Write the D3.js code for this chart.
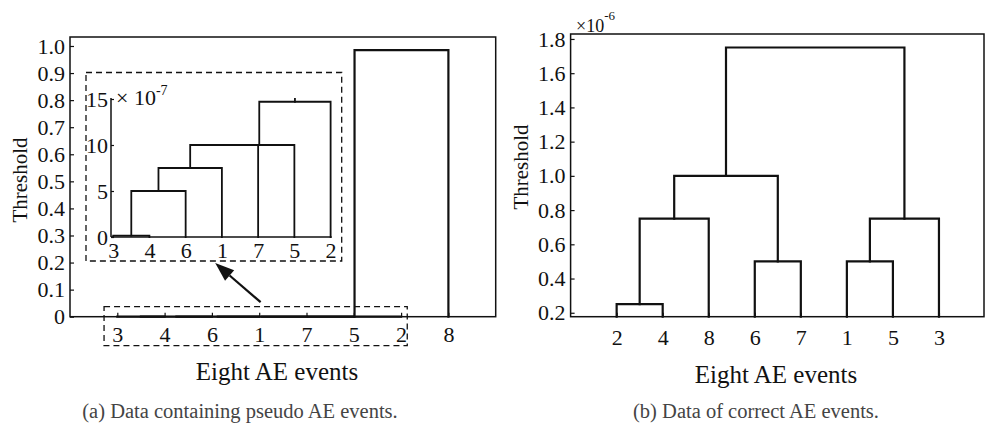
<!DOCTYPE html>
<html><head><meta charset="utf-8">
<script src="https://cdn.jsdelivr.net/npm/d3@7"></script>
<style>
html,body{margin:0;padding:0;background:#fff;}
svg{display:block;}
text{font-family:"Liberation Serif","Times New Roman",serif;fill:#111;}
</style></head><body>
<svg id="c" width="987" height="430"></svg>
<script>
// ---------- DATA ----------
// (a) leaf order and linkage (MATLAB-style: ids 1..8 = AE events, 9+ = clusters)
const leavesA = [3, 4, 6, 1, 7, 5, 2, 8];
const linkA = [          // [left id, right id, height]
  [3, 4, 0.15e-7],
  [9, 6, 5e-7],
  [10, 1, 7.5e-7],
  [11, 7, 10e-7],
  [12, 5, 10e-7],
  [13, 2, 14.7e-7],
  [14, 8, 0.985]
];
const yTicksA = [0, 0.1, 0.2, 0.3, 0.4, 0.5, 0.6, 0.7, 0.8, 0.9, 1.0];
const insetLeaves = [3, 4, 6, 1, 7, 5, 2];
const insetYTicks = [0, 5, 10, 15];      // x 10^-7
// (b)
const leavesB = [2, 4, 8, 6, 7, 1, 5, 3];
const linkB = [          // heights in units of 10^-6
  [2, 4, 0.25],
  [9, 8, 0.75],
  [6, 7, 0.5],
  [10, 11, 1.0],
  [1, 5, 0.5],
  [13, 3, 0.75],
  [12, 14, 1.75]
];
const yTicksB = [0.2, 0.4, 0.6, 0.8, 1.0, 1.2, 1.4, 1.6, 1.8];

const xTitle = "Eight AE events", yTitle = "Threshold";
const captionA = "(a) Data containing pseudo AE events.";
const captionB = "(b) Data of correct AE events.";

// ---------- HELPERS ----------
const svg = d3.select("#c");
const INK = "#111";
const N_EVENTS = 8;

function layout(leaves, links) {
  const pos = {}, h = {};
  leaves.forEach((l, i) => { pos[l] = i + 1; h[l] = 0; });
  const segs = [];
  links.forEach((L, k) => {
    const id = N_EVENTS + 1 + k;
    const [a, b, ht] = L;
    if (pos[a] === undefined) return;
    if (pos[b] === undefined) {          // partner outside this view: only a stub upward
      segs.push({xl: pos[a], hl: h[a], xr: null, hr: null, h: ht});
      return;
    }
    segs.push({xl: pos[a], hl: h[a], xr: pos[b], hr: h[b], h: ht});
    pos[id] = (pos[a] + pos[b]) / 2; h[id] = ht;
  });
  return segs;
}
function drawLinks(g, segs, x, y, hscale, width) {
  g.selectAll("path.lk").data(segs).join("path")
    .attr("class", "lk")
    .attr("d", s => {
      const p = d3.path();
      p.moveTo(x(s.xl), y(s.hl * hscale));
      p.lineTo(x(s.xl), y(s.h * hscale));
      if (s.xr !== null) {
        p.lineTo(x(s.xr), y(s.h * hscale));
        p.lineTo(x(s.xr), y(s.hr * hscale));
      }
      return p.toString();
    })
    .attr("fill", "none").attr("stroke", INK).attr("stroke-width", width)
    .attr("stroke-linejoin", "miter").attr("stroke-linecap", "square");
}
function styleAxis(g, fs) {
  g.select(".domain").remove();
  g.selectAll("line").attr("stroke", INK).attr("stroke-width", 1.2);
  g.selectAll("text").attr("font-size", fs).attr("fill", INK)
    .style("font-family", '"Liberation Serif","Times New Roman",serif');
}

// ---------- PANEL (a) ----------
const xA = d3.scaleLinear().domain([0, 9]).range([70, 495.7]);
const yA = d3.scaleLinear().domain([0, 1.0332]).range([316.7, 37]).clamp(true);
const gA = svg.append("g");

drawLinks(gA, layout(leavesA, linkA), xA, yA, 1, 2.2);

const axYA = gA.append("g").attr("transform", `translate(${xA.range()[0]},0)`)
  .call(d3.axisLeft(yA).tickValues(yTicksA).tickSizeInner(-4).tickSizeOuter(0).tickPadding(5)
  .tickFormat(d => d === 0 ? "0" : d.toFixed(1)));
styleAxis(axYA, 22);
const axXA = gA.append("g").attr("transform", `translate(0,${yA.range()[0]})`)
  .call(d3.axisBottom(xA).tickValues(leavesA.map((d, i) => i + 1)).tickSizeInner(-4).tickSizeOuter(0).tickPadding(10)
  .tickFormat((d, i) => leavesA[i]));
styleAxis(axXA, 22);
gA.append("rect").attr("x", xA.range()[0]).attr("y", yA.range()[1])
  .attr("width", xA.range()[1] - xA.range()[0]).attr("height", yA.range()[0] - yA.range()[1])
  .attr("fill", "none").attr("stroke", INK).attr("stroke-width", 1.5);

gA.append("text").attr("transform", `translate(27,180) rotate(-90)`)
  .attr("text-anchor", "middle").attr("font-size", 21).text(yTitle);
gA.append("text").attr("x", 277).attr("y", 380).attr("text-anchor", "middle")
  .attr("font-size", 25).text(xTitle);
gA.append("text").attr("x", 240).attr("y", 418).attr("text-anchor", "middle")
  .attr("font-size", 20.5).style("fill", "#444").text(captionA);

// dashed highlight around the near-zero part
gA.append("rect").attr("x", xA(0.72)).attr("y", yA(0) - 10)
  .attr("width", xA(7.13) - xA(0.72)).attr("height", 39)
  .attr("fill", "none").attr("stroke", INK).attr("stroke-width", 1.3).attr("stroke-dasharray", "6,4");

// arrow
const tail = [xA(4.03), yA(0) - 14.5], tip = [xA(3.07), yA(0.198)];
const ang = Math.atan2(tip[1] - tail[1], tip[0] - tail[0]);
const hl = 19, hw = 7;
const base = [tip[0] - hl * Math.cos(ang), tip[1] - hl * Math.sin(ang)];
gA.append("line").attr("x1", tail[0]).attr("y1", tail[1]).attr("x2", base[0]).attr("y2", base[1])
  .attr("stroke", INK).attr("stroke-width", 2.2);
gA.append("path").attr("d", d3.line()([
  tip,
  [base[0] + hw * Math.sin(ang), base[1] - hw * Math.cos(ang)],
  [base[0] - hw * Math.sin(ang), base[1] + hw * Math.cos(ang)]
]) + "Z").attr("fill", INK);

// inset
const gI = svg.append("g");
gI.append("rect").attr("x", 86).attr("y", 72.5).attr("width", 255.7).attr("height", 188.5)
  .attr("fill", "#fff").attr("stroke", INK).attr("stroke-width", 1.3).attr("stroke-dasharray", "6,4");
const xI = d3.scaleLinear().domain([0.94, 7.03]).range([111, 331.7]);
const yI = d3.scaleLinear().domain([0, 15]).range([237, 99]);
svg.append("defs").append("clipPath").attr("id", "clipI").append("rect")
  .attr("x", 100).attr("y", yI(15.1)).attr("width", 240).attr("height", 150);
const gIL = gI.append("g").attr("clip-path", "url(#clipI)");
drawLinks(gIL, layout(insetLeaves, linkA), xI, yI, 1e7, 1.8);
const axYI = gI.append("g").attr("transform", `translate(${xI.range()[0]},0)`)
  .call(d3.axisLeft(yI).tickValues(insetYTicks).tickSizeInner(-3).tickSizeOuter(0).tickPadding(3));
styleAxis(axYI, 22);
const axXI = gI.append("g").attr("transform", `translate(0,${yI(0)})`)
  .call(d3.axisBottom(xI).tickValues(insetLeaves.map((d, i) => i + 1)).tickSizeInner(0).tickSizeOuter(0).tickPadding(5)
  .tickFormat((d, i) => insetLeaves[i]));
styleAxis(axXI, 22);
gI.append("line").attr("x1", xI.range()[0]).attr("x2", xI.range()[0]).attr("y1", yI(0)).attr("y2", yI(15.1))
  .attr("stroke", INK).attr("stroke-width", 1.5);
gI.append("line").attr("x1", xI.range()[0]).attr("x2", xI.range()[1]).attr("y1", yI(0)).attr("y2", yI(0))
  .attr("stroke", INK).attr("stroke-width", 1.5);
const expI = gI.append("text").attr("x", 116).attr("y", 105).attr("font-size", 22);
expI.append("tspan").text("\u00d7 10");
expI.append("tspan").attr("dy", -10).attr("font-size", 14).text("-7");

// ---------- PANEL (b) ----------
const xB = d3.scaleLinear().domain([0, 9]).range([570.6, 985]);
const yB = d3.scaleLinear().domain([0.177, 1.829]).range([316.7, 34]).clamp(true);
const gB = svg.append("g");
drawLinks(gB, layout(leavesB, linkB), xB, yB, 1, 2.2);
const axYB = gB.append("g").attr("transform", `translate(${xB.range()[0]},0)`)
  .call(d3.axisLeft(yB).tickValues(yTicksB).tickSizeInner(-4).tickSizeOuter(0).tickPadding(5)
  .tickFormat(d => d.toFixed(1)));
styleAxis(axYB, 22);
const axXB = gB.append("g").attr("transform", `translate(0,${yB.range()[0]})`)
  .call(d3.axisBottom(xB).tickValues(leavesB.map((d, i) => i + 1)).tickSizeInner(-4).tickSizeOuter(0).tickPadding(13)
  .tickFormat((d, i) => leavesB[i]));
styleAxis(axXB, 22);
gB.append("rect").attr("x", xB.range()[0]).attr("y", yB.range()[1])
  .attr("width", xB.range()[1] - xB.range()[0] - 1).attr("height", yB.range()[0] - yB.range()[1])
  .attr("fill", "none").attr("stroke", INK).attr("stroke-width", 1.5);
const expB = gB.append("text").attr("x", 576).attr("y", 32).attr("font-size", 18);
expB.append("tspan").text("\u00d710");
expB.append("tspan").attr("dy", -12).attr("font-size", 13).text("-6");
gB.append("text").attr("transform", `translate(528,167) rotate(-90)`)
  .attr("text-anchor", "middle").attr("font-size", 21).text(yTitle);
gB.append("text").attr("x", 776).attr("y", 383).attr("text-anchor", "middle")
  .attr("font-size", 25).text(xTitle);
gB.append("text").attr("x", 756).attr("y", 418).attr("text-anchor", "middle")
  .attr("font-size", 20.5).style("fill", "#444").text(captionB);
</script>
</body></html>
